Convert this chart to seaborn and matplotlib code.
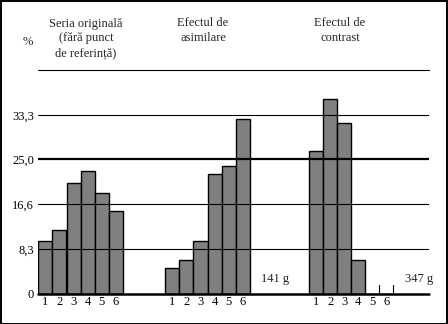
import matplotlib
matplotlib.use("Agg")
import matplotlib.pyplot as plt
import seaborn as sns
import pandas as pd
from matplotlib.patches import Rectangle

# ---- data ----
categories = ["1", "2", "3", "4", "5", "6"]
original = [9.8, 11.8, 20.6, 22.9, 18.7, 15.4]
asimilare = [4.7, 6.2, 9.8, 22.3, 23.8, 32.5]
contrast = [26.6, 36.3, 31.7, 6.2, 0.0, 0.0]
group_titles = ["Seria originală\n(fără punct\nde referință)", "Efectul de\nasimilare", "Efectul de\ncontrast"]
ytick_values = [0, 8.3, 16.6, 25.0, 33.3]
ytick_labels = ["0", "8,3", "16,6", "25,0", "33,3"]
anchor_labels = ["141 g", "347 g"]

sns.set_theme(style="white")
plt.rcParams["font.family"] = ["Liberation Serif", "DejaVu Serif"]
FS = 9

W, H = 448, 324
fig = plt.figure(figsize=(W / 100, H / 100), dpi=100)
fig.patch.set_facecolor("white")

# axes placement in pixel terms
left_px, right_px, top_px, base_px = 38.3, 429.0, 70.0, 293.5
ax = fig.add_axes([left_px / W, 1 - base_px / H, (right_px - left_px) / W, (base_px - top_px) / H])

offsets = [0.0, 9.0, 19.2]
rows = []
for g, (vals, off) in enumerate(zip([original, asimilare, contrast], offsets)):
    for i, (c, v) in enumerate(zip(categories, vals)):
        rows.append({"pos": off + i + 1, "value": v, "cat": c, "group": g})
df = pd.DataFrame(rows)

sns.barplot(data=df, x="pos", y="value", native_scale=True, width=1.0,
            color="#808080", saturation=1, edgecolor="black", linewidth=1.0,
            errorbar=None, ax=ax, zorder=2)

ymax = 41.67
ax.set_xlim(0.5, 0.5 + (right_px - left_px) / 14.1)
ax.set_ylim(0, ymax)

# grid lines drawn on top of bars
for yv in ytick_values[1:]:
    lw = 1.6 if abs(yv - 25.0) < 1e-6 else 0.8
    ax.axhline(yv, color="black", lw=lw, zorder=3)
ax.axhline(0, color="black", lw=1.8, zorder=4, clip_on=False)
ax.axhline(ymax, color="black", lw=0.8, zorder=3, clip_on=False)

for s in ax.spines.values():
    s.set_visible(False)

ax.set_xticks(df["pos"].tolist())
ax.set_xticklabels(df["cat"].tolist(), fontsize=FS)
ax.set_yticks(ytick_values)
ax.set_yticklabels(ytick_labels, fontsize=FS)
ax.tick_params(axis="both", length=0, colors="black")
ax.tick_params(axis="x", pad=1.5)
ax.tick_params(axis="y", pad=3)
ax.set_xlabel("")
ax.set_ylabel("")
ax.grid(False)

# small marks for zero bars in the contrast group
zero_rows = df[(df["group"] == 2) & (df["value"] == 0)]
for p in zero_rows["pos"]:
    ax.plot([p + 0.45, p + 0.45, p + 0.6], [1.5, 0, 0], color="black", lw=0.8, zorder=5, clip_on=False)

# anchor labels
ax.text(offsets[1] + 6 + 1.3, 2.7, anchor_labels[0], fontsize=FS, va="center", ha="left")
ax.text(offsets[2] + 6 + 1.3, 2.7, anchor_labels[1], fontsize=FS, va="center", ha="left")

# headers
hdr_x = [86, 203, 340]
for tx, title in zip(hdr_x, group_titles):
    fig.text(tx / W, 1 - 17.5 / H, title, ha="center", va="top", fontsize=FS, linespacing=1.3)
fig.text(28 / W, 1 - 42 / H, "%", ha="center", va="center", fontsize=FS)

# figure frame
fig.patches.append(Rectangle((0.5 / W, 0.5 / H), 1 - 1.5 / W, 1 - 1.5 / H, transform=fig.transFigure,
                             fill=False, edgecolor="black", lw=1.4))

fig.savefig("out.png", dpi=100, facecolor="white")
